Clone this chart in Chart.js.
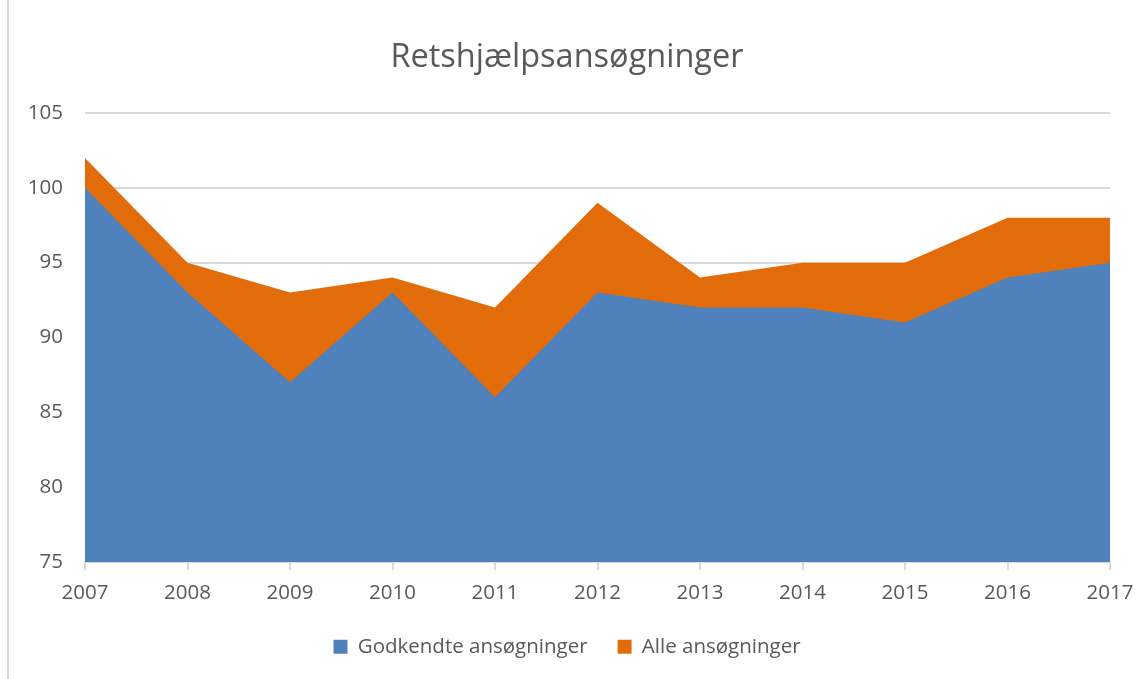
<!DOCTYPE html>
<html>
<head>
<meta charset="utf-8">
<title>Retshjælpsansøgninger</title>
<script src="https://cdn.jsdelivr.net/npm/chart.js@4.4.1/dist/chart.umd.min.js"></script>
<style>
  html, body { margin: 0; padding: 0; background: #fff; }
  #wrap { position: relative; width: 1147px; height: 679px; }
  #frame { position: absolute; left: 7px; top: 0; width: 2px; height: 679px; background: #d9d9d9; }
  canvas { position: absolute; left: 0; top: 0; }
</style>
</head>
<body>
<div id="wrap">
  <div id="frame"></div>
  <canvas id="chart" width="1147" height="679"></canvas>
</div>
<script>
  // data
  const years = ['2007', '2008', '2009', '2010', '2011', '2012', '2013', '2014', '2015', '2016', '2017'];
  const godkendte = [100, 93, 87, 93, 86, 93, 92, 92, 91, 94, 95];
  const alle = [102, 95, 93, 94, 92, 99, 94, 95, 95, 98, 98];
  const yTicks = [75, 80, 85, 90, 95, 100, 105];

  const FONT = "'Open Sans', 'Liberation Sans', sans-serif";
  const TEXT = '#595959';
  const GRID = '#d9d9d9';

  Chart.defaults.font.family = FONT;
  Chart.defaults.color = TEXT;

  new Chart(document.getElementById('chart').getContext('2d'), {
    type: 'line',
    data: {
      labels: years,
      datasets: [
        {
          label: 'Godkendte ansøgninger',
          data: godkendte,
          borderWidth: 0,
          borderColor: '#4f81bd',
          backgroundColor: '#4f81bd',
          fill: 'start',
          pointRadius: 0,
          tension: 0,
        },
        {
          label: 'Alle ansøgninger',
          data: alle,
          borderWidth: 0,
          borderColor: '#e36c0a',
          backgroundColor: '#e36c0a',
          fill: 'start',
          pointRadius: 0,
          tension: 0,
        },
      ],
    },
    options: {
      responsive: false,
      animation: false,
      layout: {
        // left pad nudges title/legend toward the centre used in the original
        padding: { top: 38, right: 37, bottom: 12, left: 24 },
      },
      scales: {
        x: {
          offset: false,
          afterFit(scale) {
            // let the legend tuck up closer to the year labels
            scale.height -= 10;
          },
          grid: {
            drawOnChartArea: false,
            drawTicks: true,
            tickLength: 8,
            color: GRID,
            lineWidth: 2,
          },
          border: { display: true, color: GRID, width: 2 },
          ticks: {
            color: TEXT,
            font: { size: 20.5 },
            padding: 11,
            maxRotation: 0,
          },
        },
        y: {
          min: 75,
          max: 105,
          afterBuildTicks(scale) {
            scale.ticks = yTicks.map((v) => ({ value: v }));
          },
          afterFit(scale) {
            scale.width = 61;
          },
          grid: { color: GRID, lineWidth: 2, drawTicks: false },
          border: { display: false },
          ticks: {
            color: TEXT,
            font: { size: 20.5 },
            padding: 22,
          },
        },
      },
      plugins: {
        title: {
          display: true,
          text: 'Retshjælpsansøgninger',
          color: TEXT,
          font: { size: 32.5, weight: 'normal' },
          padding: { top: 0, bottom: 36 },
        },
        legend: {
          position: 'bottom',
          labels: {
            color: TEXT,
            font: { size: 20.5 },
            boxWidth: 14,
            boxHeight: 14,
            padding: 30,
          },
        },
        tooltip: { enabled: false },
      },
    },
  });
</script>
</body>
</html>
